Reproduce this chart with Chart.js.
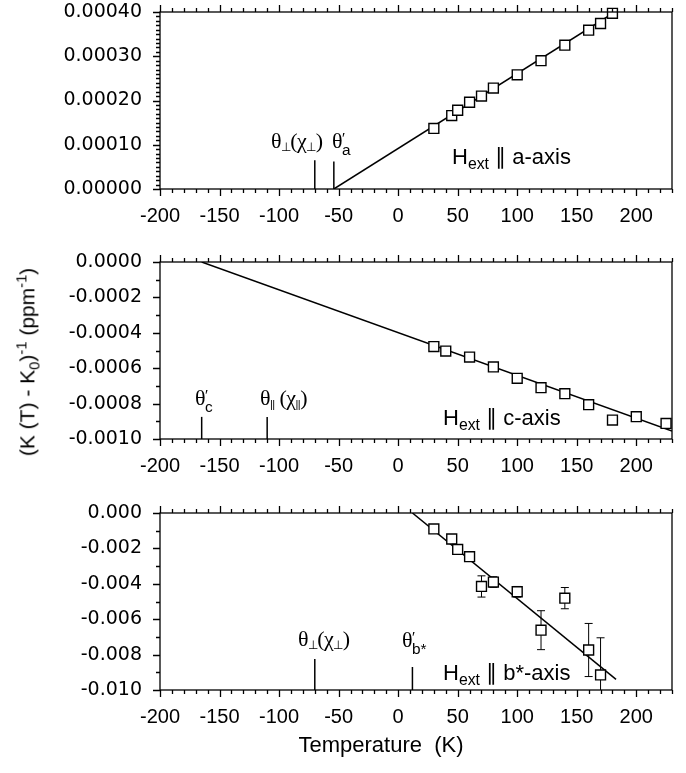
<!DOCTYPE html>
<html>
<head>
<meta charset="utf-8">
<script src="https://cdn.jsdelivr.net/npm/chart.js@4.4.0/dist/chart.umd.min.js"></script>
<style>
    body { margin: 0; background: #fff; }
    #wrap { position: relative; width: 686px; height: 773px; overflow: hidden; font-family: "Liberation Sans", Arial, sans-serif; color: #000; }
    canvas { position: absolute; left: 0; }
    .note { position: absolute; white-space: nowrap; line-height: 1; }
    .serif { font-family: "Liberation Serif", "Times New Roman", serif; font-size: 22px; letter-spacing: -0.6px; }
    .serif sub { font-size: 0.55em; vertical-align: -0.25em; }
    .serif sub.par { font-family: "Liberation Sans", Arial, sans-serif; font-size: 0.5em; letter-spacing: -0.5px; }
    .hext { font-size: 22px; }
    .hext sub { font-size: 0.72em; vertical-align: -0.3em; }
    .ps { display: inline-block; vertical-align: -0.45em; line-height: 0.75; font-family: "Liberation Sans", Arial, sans-serif; font-size: 0.7em; text-align: left; letter-spacing: 0; }
    #ytitle { position: absolute; left: 28px; top: 362px; transform: translate(-50%, -50%) rotate(-90deg); font-size: 21px; white-space: nowrap; }
    #ytitle sub, #ytitle sup { font-size: 0.7em; }
    #xtitle { position: absolute; left: 381px; top: 745px; transform: translate(-50%, -50%); font-size: 22px; white-space: pre; }
</style>
</head>
<body>
<div id="wrap">
    <canvas id="chartA" width="686" height="250" style="top:0px"></canvas>
    <canvas id="chartC" width="686" height="250" style="top:250px"></canvas>
    <canvas id="chartB" width="686" height="250" style="top:500px"></canvas>

    <!-- panel a -->
    <div class="note serif" style="left:271px; top:130px">θ<sub>⊥</sub>(χ<sub>⊥</sub>)</div>
    <div class="note serif" style="left:332px; top:130px">θ<span class="ps">′<br>a</span></div>
    <div class="note hext" style="left:452px; top:146px">H<sub>ext</sub> ∥ a-axis</div>
    <!-- panel c -->
    <div class="note serif" style="left:195px; top:387px">θ<span class="ps">′<br>c</span></div>
    <div class="note serif" style="left:260px; top:387px">θ<sub class="par">||</sub> (χ<sub class="par">||</sub>)</div>
    <div class="note hext" style="left:443px; top:407px">H<sub>ext</sub> ∥ c-axis</div>
    <!-- panel b* -->
    <div class="note serif" style="left:298px; top:628px">θ<sub>⊥</sub>(χ<sub>⊥</sub>)</div>
    <div class="note serif" style="left:402px; top:629px">θ<span class="ps">′<br>b*</span></div>
    <div class="note hext" style="left:443px; top:662px">H<sub>ext</sub> ∥ b*-axis</div>

    <div id="ytitle">(K (T) - K<sub>0</sub>)<sup>-1</sup> (ppm<sup>-1</sup>)</div>
    <div id="xtitle">Temperature  (K)</div>
</div>
<script>
// Shared x axis
const xMin = -200;
const xMax = 230;
const xTicks = [-200, -150, -100, -50, 0, 50, 100, 150, 200];

// Panel 1: H || a-axis
const tempA = [30, 45, 50, 60, 70, 80, 100, 120, 140, 160, 170, 180];
const invA = [0.000137, 0.000166, 0.000178, 0.000196, 0.00021, 0.000228, 0.000258, 0.00029, 0.000325, 0.000359, 0.000374, 0.000397];
const fitA_T = [-54, 182];
const fitA_Y = [0, 0.0004];
const markA_T = [-70, -54];
const markA_Y = [0.000065, 0.000062];
const yTicksA = [0, 0.0001, 0.0002, 0.0003, 0.0004];

// Panel 2: H || c-axis
const tempC = [30, 40, 60, 80, 100, 120, 140, 160, 180, 200, 225];
const invC = [-0.000478, -0.000503, -0.000537, -0.000593, -0.000657, -0.00071, -0.000744, -0.000806, -0.000893, -0.000874, -0.000912];
const fitC_T = [-165, 230];
const fitC_Y = [0, -0.000955];
const markC_T = [-165, -110];
const markC_Y = [-0.000875, -0.000875];
const yTicksC = [-0.001, -0.0008, -0.0006, -0.0004, -0.0002, 0];

// Panel 3: H || b*-axis
const tempB = [30, 45, 50, 60, 70, 80, 100, 120, 140, 160, 170];
const invB = [-0.0009, -0.00147, -0.00206, -0.00247, -0.00415, -0.0039, -0.00445, -0.00662, -0.00481, -0.00774, -0.00915];
const errB = [0, 0, 0, 0, 0.0006, 0.0003, 0.0003, 0.0011, 0.0006, 0.0015, 0.0021];
const fitB_T = [12, 183];
const fitB_Y = [0, -0.0094];
const markB_T = [-70, 12];
const markB_Y = [-0.00825, -0.0087];
const yTicksB = [-0.01, -0.008, -0.006, -0.004, -0.002, 0];

// frame, minor ticks and top ticks
const frameTicks = {
    id: 'frameTicks',
    afterDraw(chart, args, opts) {
        const { ctx, chartArea: a, scales: { x, y } } = chart;
        ctx.save();
        ctx.strokeStyle = '#000';
        ctx.lineWidth = 1.3;
        ctx.strokeRect(a.left, a.top, a.right - a.left, a.bottom - a.top);
        ctx.beginPath();
        const nx = Math.round((xMax - xMin) / 10);
        for (let i = 0; i <= nx; i++) {
            const v = xMin + i * 10;
            const px = Math.round(x.getPixelForValue(v)) + 0.5;
            const len = v % 50 === 0 ? 7 : 4;
            ctx.moveTo(px, a.bottom); ctx.lineTo(px, a.bottom + len);
            ctx.moveTo(px, a.top); ctx.lineTo(px, a.top - len);
        }
        const ny = Math.round((y.max - y.min) / opts.yMinor);
        for (let i = 0; i <= ny; i++) {
            const v = y.min + i * opts.yMinor;
            const py = Math.round(y.getPixelForValue(v)) + 0.5;
            const len = i % opts.perMajor === 0 ? 7 : 4;
            ctx.moveTo(a.left, py); ctx.lineTo(a.left - len, py);
        }
        ctx.stroke();
        ctx.restore();
    }
};

// error bars (drawn under the markers)
const errorBars = {
    id: 'errorBars',
    beforeDatasetsDraw(chart) {
        const { ctx, chartArea: a, scales: { x, y } } = chart;
        ctx.save();
        ctx.beginPath();
        ctx.rect(a.left, a.top, a.right - a.left, a.bottom - a.top);
        ctx.clip();
        ctx.strokeStyle = '#000';
        ctx.lineWidth = 1;
        chart.data.datasets.forEach(ds => {
            if (!ds.errors) return;
            ds.data.forEach((p, i) => {
                const e = ds.errors[i];
                if (!e) return;
                const px = x.getPixelForValue(p.x);
                const y1 = y.getPixelForValue(p.y + e);
                const y2 = y.getPixelForValue(p.y - e);
                ctx.beginPath();
                ctx.moveTo(px, y1); ctx.lineTo(px, y2);
                ctx.moveTo(px - 4, y1); ctx.lineTo(px + 4, y1);
                ctx.moveTo(px - 4, y2); ctx.lineTo(px + 4, y2);
                ctx.stroke();
            });
        });
        ctx.restore();
    }
};

function pts(xs, ys) {
    return xs.map((v, i) => ({ x: v, y: ys[i] }));
}

function markerSets(ts, tops, yBottom) {
    return ts.map((t, i) => ({
        type: 'line',
        data: [{ x: t, y: yBottom }, { x: t, y: tops[i] }],
        borderColor: '#000',
        borderWidth: 1.5,
        pointRadius: 0
    }));
}

function makePanel(id, cfg) {
    return new Chart(document.getElementById(id), {
        type: 'scatter',
        data: {
            datasets: [
                {
                    data: pts(cfg.temps, cfg.vals),
                    errors: cfg.errors,
                    pointStyle: 'rect',
                    pointRadius: 7,
                    borderColor: '#000',
                    borderWidth: 1.4,
                    backgroundColor: '#fff',
                    clip: false
                },
                {
                    type: 'line',
                    data: pts(cfg.fitT, cfg.fitY),
                    borderColor: '#000',
                    borderWidth: 1.5,
                    pointRadius: 0
                },
                ...markerSets(cfg.markT, cfg.markY, cfg.ticks[0])
            ]
        },
        options: {
            responsive: false,
            animation: false,
            events: [],
            layout: { padding: { top: cfg.padTop, right: 14, left: 0, bottom: 0 } },
            plugins: {
                legend: { display: false },
                tooltip: { enabled: false },
                frameTicks: { yMinor: cfg.yMinor, perMajor: cfg.perMajor }
            },
            scales: {
                x: {
                    type: 'linear',
                    min: xMin,
                    max: xMax,
                    grid: { display: false },
                    border: { display: false },
                    afterBuildTicks: axis => { axis.ticks = xTicks.map(v => ({ value: v })); },
                    afterFit: axis => { axis.height = cfg.xHeight; },
                    ticks: {
                        color: '#000',
                        padding: 7,
                        maxRotation: 0,
                        font: { family: '"Liberation Sans", Arial, sans-serif', size: 20 }
                    }
                },
                y: {
                    min: cfg.ticks[0],
                    max: cfg.ticks[cfg.ticks.length - 1],
                    grid: { display: false },
                    border: { display: false },
                    afterBuildTicks: axis => { axis.ticks = cfg.ticks.map(v => ({ value: v })); },
                    afterFit: axis => {
                        axis.width = 160;
                        // labels may stick out above the frame, like the original
                        axis.paddingTop = 0;
                        axis.paddingBottom = 0;
                    },
                    ticks: {
                        color: '#000',
                        padding: 10,
                        callback: v => Number(v).toFixed(cfg.digits),
                        font: { family: '"DejaVu Sans", sans-serif', size: 19 }
                    }
                }
            }
        },
        plugins: [errorBars, frameTicks]
    });
}

makePanel('chartA', {
    temps: tempA, vals: invA, fitT: fitA_T, fitY: fitA_Y,
    markT: markA_T, markY: markA_Y, ticks: yTicksA,
    digits: 5, yMinor: 0.00001, perMajor: 10, padTop: 12, xHeight: 61
});
makePanel('chartC', {
    temps: tempC, vals: invC, fitT: fitC_T, fitY: fitC_Y,
    markT: markC_T, markY: markC_Y, ticks: yTicksC,
    digits: 4, yMinor: 0.0001, perMajor: 2, padTop: 12, xHeight: 61
});
makePanel('chartB', {
    temps: tempB, vals: invB, errors: errB, fitT: fitB_T, fitY: fitB_Y,
    markT: markB_T, markY: markB_Y, ticks: yTicksB,
    digits: 3, yMinor: 0.001, perMajor: 2, padTop: 13, xHeight: 60
});
</script>
</body>
</html>
